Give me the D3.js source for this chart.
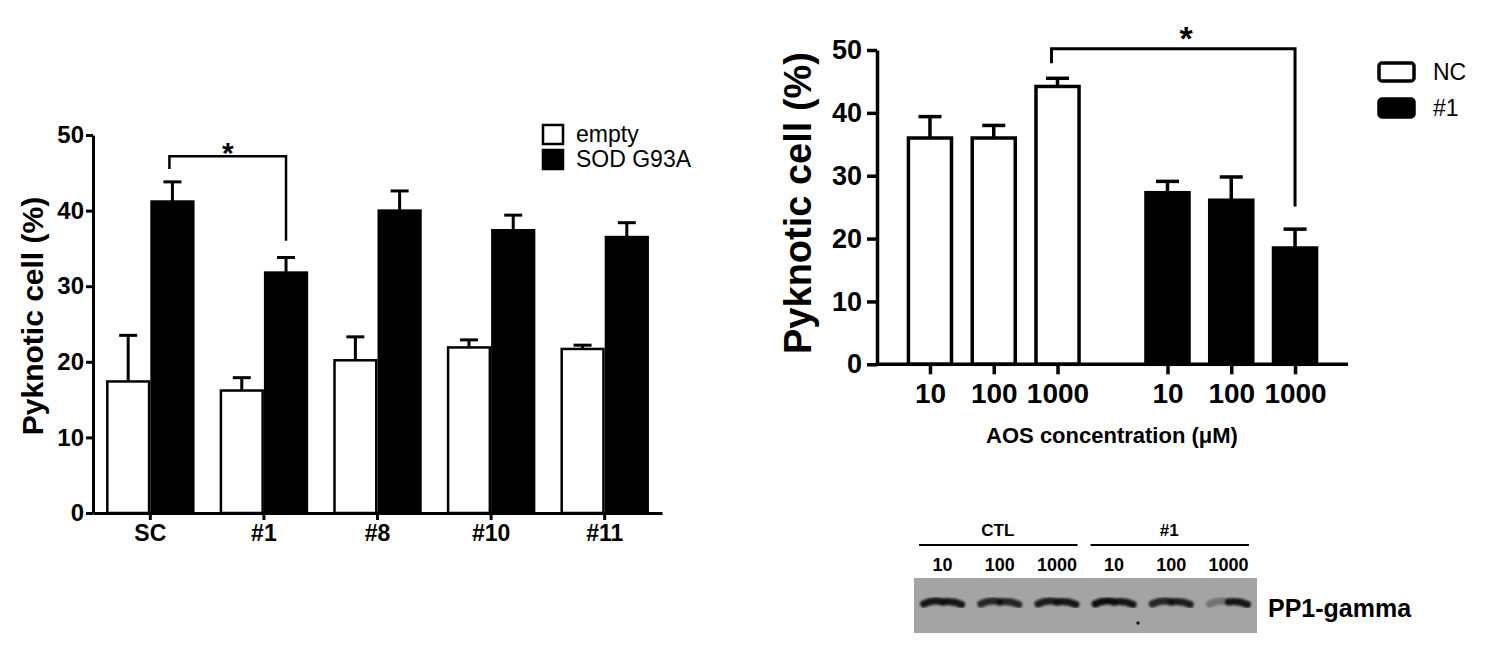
<!DOCTYPE html>
<html>
<head>
<meta charset="utf-8">
<script src="https://cdn.jsdelivr.net/npm/d3@7"></script>
<style>
  body { margin: 0; background: #fff; }
  svg { display: block; font-family: Arial, "Liberation Sans", sans-serif; }
  .axis path, .axis line { stroke: #000; }
  .axis text { fill: #000; font-weight: bold; }
</style>
</head>
<body>
<script>
// ---- data: left panel (shRNA clones) ----
var clones = ["SC", "#1", "#8", "#10", "#11"];
var leftSeries = ["empty", "SOD G93A"];
var emptyMean = [17.4, 16.2, 20.2, 21.9, 21.7];
var emptySem  = [6.1, 1.7, 3.1, 1.0, 0.5];
var sodMean   = [41.2, 31.8, 40.0, 37.4, 36.5];
var sodSem    = [2.6, 2.0, 2.6, 2.0, 1.9];
var leftTicks = [0, 10, 20, 30, 40, 50];
// bracket: from clone, to clone, bar height, left leg end, right leg end
var leftSig = ["SC", "#1", 47.2, 45.5, 36.0];

// ---- data: right panel (AOS concentration) ----
var concs = ["10", "100", "1000"];
var rightGroups = ["NC", "#1"];
var ncMean  = [36.0, 36.0, 44.2];
var ncSem   = [3.4, 2.0, 1.3];
var oneMean = [27.3, 26.1, 18.5];
var oneSem  = [1.8, 3.7, 3.0];
var rightTicks = [0, 10, 20, 30, 40, 50];
var rightSig = [["NC", "1000"], ["#1", "1000"], 50.2, 47.9, 25.1];

// ---- data: western blot ----
var blotGroups = ["CTL", "#1"];
var blotLanes = ["10", "100", "1000", "10", "100", "1000"];
var bandLeft  = [0.95, 0.85, 0.9, 1.0, 0.85, 0.3];
var bandRight = [0.95, 0.85, 0.95, 0.95, 0.9, 0.95];

var svg = d3.select("body").append("svg")
    .attr("width", 1491)
    .attr("height", 659);

svg.append("rect").attr("width", 1491).attr("height", 659).attr("fill", "#fff");

// ================= left panel =================
var yL = d3.scaleLinear().domain([0, 50]).range([513, 135]);
var xL = d3.scaleBand().domain(clones).range([93, 662])
    .paddingInner(0.221).paddingOuter(0.115);
var xLs = d3.scaleBand().domain(leftSeries).range([0, xL.bandwidth()]);

var left = svg.append("g");

var leftRows = [];
clones.forEach(function(c, i) {
  leftRows.push({c: c, s: "empty", v: emptyMean[i], e: emptySem[i]});
  leftRows.push({c: c, s: "SOD G93A", v: sodMean[i], e: sodSem[i]});
});

// error bars (drawn first so the bar covers the base)
var lErr = left.selectAll(".lerr").data(leftRows).enter().append("g")
    .attr("stroke", "#000").attr("stroke-width", 3);
lErr.append("line")
    .attr("x1", function(d) { return xL(d.c) + xLs(d.s) + xLs.bandwidth() / 2; })
    .attr("x2", function(d) { return xL(d.c) + xLs(d.s) + xLs.bandwidth() / 2; })
    .attr("y1", function(d) { return yL(d.v); })
    .attr("y2", function(d) { return yL(d.v + d.e); });
lErr.append("line")
    .attr("x1", function(d) { return xL(d.c) + xLs(d.s) + xLs.bandwidth() / 2 - 9; })
    .attr("x2", function(d) { return xL(d.c) + xLs(d.s) + xLs.bandwidth() / 2 + 9; })
    .attr("y1", function(d) { return yL(d.v + d.e); })
    .attr("y2", function(d) { return yL(d.v + d.e); });

left.selectAll(".lbar").data(leftRows).enter().append("rect")
    .attr("x", function(d) { return xL(d.c) + xLs(d.s) + 1.25; })
    .attr("y", function(d) { return yL(d.v); })
    .attr("width", xLs.bandwidth() - 2.5)
    .attr("height", function(d) { return yL(0) - yL(d.v); })
    .attr("fill", function(d) { return d.s == "empty" ? "#fff" : "#000"; })
    .attr("stroke", "#000")
    .attr("stroke-width", 2.5);

var lyAxis = left.append("g").attr("class", "axis")
    .attr("transform", "translate(93,0)")
    .call(d3.axisLeft(yL).tickValues(leftTicks).tickSize(7).tickSizeOuter(0).tickPadding(2));
lyAxis.selectAll("path, line").attr("stroke-width", 3);
lyAxis.selectAll("text").attr("font-size", 24);

var lxAxis = left.append("g").attr("class", "axis")
    .attr("transform", "translate(0,513)")
    .call(d3.axisBottom(xL).tickSize(7).tickSizeOuter(0).tickPadding(5));
lxAxis.selectAll("path, line").attr("stroke-width", 3);
lxAxis.selectAll("text").attr("font-size", 23);

left.append("text")
    .attr("transform", "translate(43,316) rotate(-90)")
    .attr("text-anchor", "middle")
    .attr("font-size", 30)
    .attr("font-weight", "bold")
    .text("Pyknotic cell (%)");

// significance bracket
var lx1 = xL(leftSig[0]) + xLs("SOD G93A") + xLs.bandwidth() / 2 - 3;
var lx2 = xL(leftSig[1]) + xLs("SOD G93A") + xLs.bandwidth() / 2;
left.append("path")
    .attr("d", "M" + lx1 + "," + yL(leftSig[3]) + "V" + yL(leftSig[2]) +
               "H" + lx2 + "V" + yL(leftSig[4]))
    .attr("fill", "none").attr("stroke", "#000").attr("stroke-width", 2.5);
left.append("text")
    .attr("x", (lx1 + lx2) / 2).attr("y", 163)
    .attr("text-anchor", "middle")
    .attr("font-size", 30).attr("font-weight", "bold")
    .text("*");

// legend
var lLeg = left.selectAll(".lleg").data(leftSeries).enter().append("g")
    .attr("transform", function(d, i) { return "translate(543," + (125 + i * 25) + ")"; });
lLeg.append("rect")
    .attr("width", 20).attr("height", 19)
    .attr("fill", function(d, i) { return i == 0 ? "#fff" : "#000"; })
    .attr("stroke", "#000").attr("stroke-width", 2.5);
lLeg.append("text")
    .attr("x", 33).attr("y", 17)
    .attr("font-size", 23)
    .text(function(d) { return d; });

// ================= right panel =================
var yR = d3.scaleLinear().domain([0, 50]).range([364.3, 50]);
var xR = d3.scaleBand().domain(rightGroups).range([877, 1348])
    .paddingInner(0.267).paddingOuter(0.125);
var xRc = d3.scaleBand().domain(concs).range([0, xR.bandwidth()]).paddingInner(0.27);

var right = svg.append("g");

var rightRows = [];
concs.forEach(function(c, i) {
  rightRows.push({g: "NC", c: c, v: ncMean[i], e: ncSem[i]});
});
concs.forEach(function(c, i) {
  rightRows.push({g: "#1", c: c, v: oneMean[i], e: oneSem[i]});
});
function rCenter(g, c) { return xR(g) + xRc(c) + xRc.bandwidth() / 2; }

var rErr = right.selectAll(".rerr").data(rightRows).enter().append("g")
    .attr("stroke", "#000").attr("stroke-width", 3.5);
rErr.append("line")
    .attr("x1", function(d) { return rCenter(d.g, d.c); })
    .attr("x2", function(d) { return rCenter(d.g, d.c); })
    .attr("y1", function(d) { return yR(d.v); })
    .attr("y2", function(d) { return yR(d.v + d.e); });
rErr.append("line")
    .attr("x1", function(d) { return rCenter(d.g, d.c) - 11.5; })
    .attr("x2", function(d) { return rCenter(d.g, d.c) + 11.5; })
    .attr("y1", function(d) { return yR(d.v + d.e); })
    .attr("y2", function(d) { return yR(d.v + d.e); });

right.selectAll(".rbar").data(rightRows).enter().append("rect")
    .attr("x", function(d) { return xR(d.g) + xRc(d.c) + 1.75; })
    .attr("y", function(d) { return yR(d.v); })
    .attr("width", xRc.bandwidth() - 3.5)
    .attr("height", function(d) { return yR(0) - yR(d.v); })
    .attr("fill", function(d) { return d.g == "NC" ? "#fff" : "#000"; })
    .attr("stroke", "#000")
    .attr("stroke-width", 3.5);

var ryAxis = right.append("g").attr("class", "axis")
    .attr("transform", "translate(877,0)")
    .call(d3.axisLeft(yR).tickValues(rightTicks).tickSize(10).tickSizeOuter(0).tickPadding(5));
ryAxis.selectAll("path, line").attr("stroke-width", 3.5);
ryAxis.selectAll("text").attr("font-size", 27);

// one tick per bar, positioned by the band scales
var tickKeys = rightRows.map(function(d) { return d.g + "|" + d.c; });
var xRt = d3.scaleOrdinal().domain(tickKeys)
    .range(rightRows.map(function(d) { return rCenter(d.g, d.c); }));
var rxAxis = right.append("g").attr("class", "axis")
    .attr("transform", "translate(0,364.3)")
    .call(d3.axisBottom(xRt).tickSize(10).tickSizeOuter(0).tickPadding(9)
          .tickFormat(function(k) { return k.split("|")[1]; }));
rxAxis.select(".domain").remove();
rxAxis.append("line")
    .attr("x1", xR.range()[0]).attr("x2", xR.range()[1])
    .attr("stroke", "#000");
rxAxis.selectAll("line").attr("stroke-width", 3.5);
rxAxis.selectAll("text").attr("font-size", 28);

right.append("text")
    .attr("x", 1112).attr("y", 443)
    .attr("text-anchor", "middle")
    .attr("font-size", 22).attr("font-weight", "bold")
    .text("AOS concentration (\u03bcM)");

right.append("text")
    .attr("transform", "translate(811,203) rotate(-90)")
    .attr("text-anchor", "middle")
    .attr("font-size", 38)
    .attr("font-weight", "bold")
    .text("Pyknotic cell (%)");

var rx1 = rCenter(rightSig[0][0], rightSig[0][1]) - 6;
var rx2 = rCenter(rightSig[1][0], rightSig[1][1]);
right.append("path")
    .attr("d", "M" + rx1 + "," + yR(rightSig[3]) + "V" + yR(rightSig[2]) +
               "H" + rx2 + "V" + yR(rightSig[4]))
    .attr("fill", "none").attr("stroke", "#000").attr("stroke-width", 3);
right.append("text")
    .attr("x", 1186).attr("y", 50)
    .attr("text-anchor", "middle")
    .attr("font-size", 34).attr("font-weight", "bold")
    .text("*");

var rLeg = right.selectAll(".rleg").data(rightGroups).enter().append("g")
    .attr("transform", function(d, i) { return "translate(1379," + (63 + i * 36) + ")"; });
rLeg.append("rect")
    .attr("width", 35).attr("height", 18).attr("rx", 3)
    .attr("fill", function(d, i) { return i == 0 ? "#fff" : "#000"; })
    .attr("stroke", "#000").attr("stroke-width", 3.5);
rLeg.append("text")
    .attr("x", 54).attr("y", 16.5)
    .attr("font-size", 23)
    .text(function(d) { return d; });

// ================= western blot =================
var laneKeys = blotLanes.map(function(d, i) { return i; });
var xB = d3.scaleBand().domain(laneKeys).range([914, 1257]);
var blot = svg.append("g");

var defs = svg.append("defs");
defs.append("filter").attr("id", "blur")
    .attr("x", "-20%").attr("y", "-100%").attr("width", "140%").attr("height", "300%")
  .append("feGaussianBlur").attr("stdDeviation", 1.1);

blot.append("rect")
    .attr("x", 914).attr("y", 578)
    .attr("width", 343).attr("height", 55)
    .attr("fill", "#a4a4a4");

// group headers with underline
blotGroups.forEach(function(g, gi) {
  var a = xB(gi * 3), b = xB(gi * 3 + 2) + xB.bandwidth();
  blot.append("line")
      .attr("x1", a + 5).attr("x2", b - 8)
      .attr("y1", 545).attr("y2", 545)
      .attr("stroke", "#000").attr("stroke-width", 2);
  blot.append("text")
      .attr("x", (a + b) / 2 - 2).attr("y", 536)
      .attr("text-anchor", "middle")
      .attr("font-size", 17).attr("font-weight", "bold")
      .text(g);
});

blot.selectAll(".lane").data(blotLanes).enter().append("text")
    .attr("x", function(d, i) { return xB(i) + xB.bandwidth() / 2; })
    .attr("y", 571)
    .attr("text-anchor", "middle")
    .attr("font-size", 18).attr("font-weight", "bold")
    .text(function(d) { return d; });

// bands: two halves so each can carry its own density
var bands = blot.selectAll(".band").data(blotLanes).enter().append("g")
    .attr("filter", "url(#blur)");
bands.append("path")
    .attr("d", function(d, i) {
      var c = xB(i) + xB.bandwidth() / 2;
      return "M" + (c - 19) + ",604 Q" + (c - 10) + ",599.5 " + c + ",602";
    })
    .attr("fill", "none").attr("stroke", "#0d0d0d").attr("stroke-width", 7)
    .attr("stroke-linecap", "round")
    .attr("opacity", function(d, i) { return bandLeft[i]; });
bands.append("path")
    .attr("d", function(d, i) {
      var c = xB(i) + xB.bandwidth() / 2;
      return "M" + c + ",602 Q" + (c + 10) + ",600.5 " + (c + 19) + ",604.5";
    })
    .attr("fill", "none").attr("stroke", "#0d0d0d").attr("stroke-width", 7)
    .attr("stroke-linecap", "round")
    .attr("opacity", function(d, i) { return bandRight[i]; });

blot.append("circle")
    .attr("cx", 1138).attr("cy", 623).attr("r", 1.8)
    .attr("fill", "#222");

blot.append("text")
    .attr("x", 1268).attr("y", 617)
    .attr("font-size", 25).attr("font-weight", "bold")
    .text("PP1-gamma");
</script>
</body>
</html>
